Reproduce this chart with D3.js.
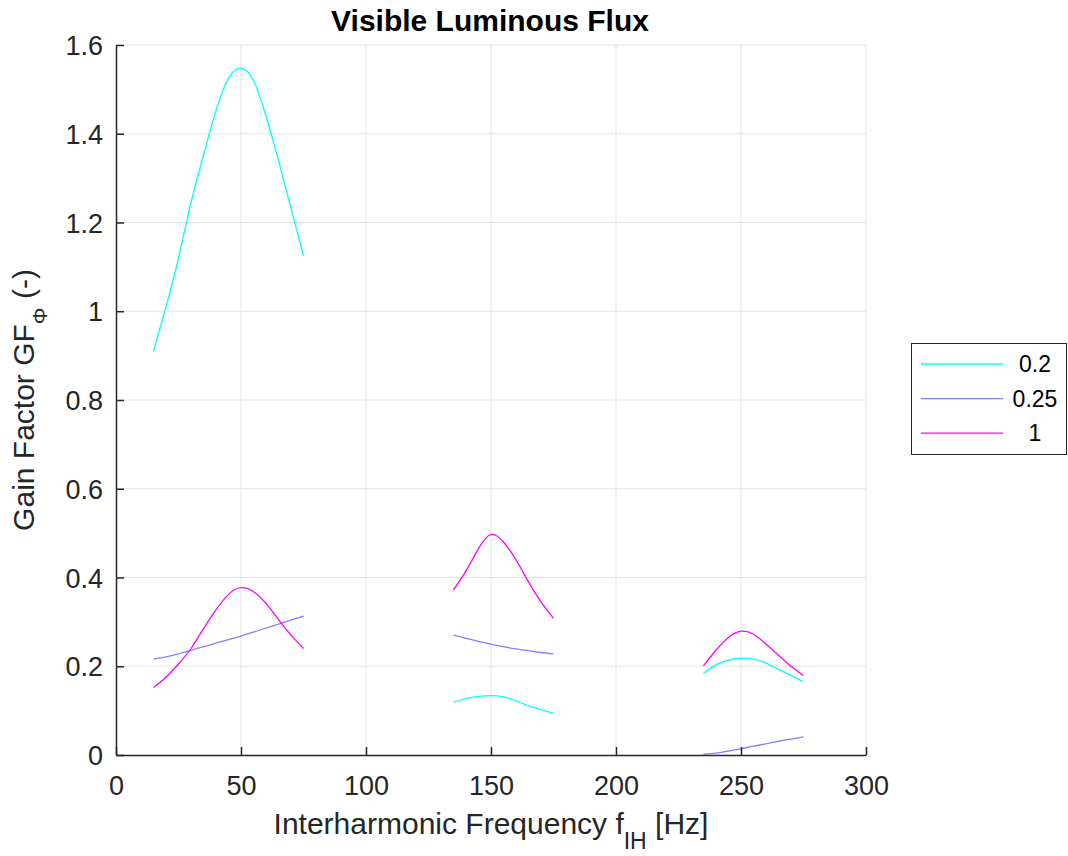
<!DOCTYPE html>
<html>
<head>
<meta charset="utf-8">
<script src="https://cdn.jsdelivr.net/npm/d3@7"></script>
<style>
  html, body { margin: 0; padding: 0; background: #fff; }
  svg { display: block; font-family: "Liberation Sans", Arial, Helvetica, sans-serif; }
</style>
</head>
<body>
<svg id="chart" width="1068" height="856"></svg>
<script>
// ---- data ----
const freqSeg1 = [15, 20, 25, 30, 35, 40, 45, 50, 55, 60, 65, 70, 75];
const freqSeg2 = [135, 140, 145, 150, 155, 160, 165, 170, 175];
const freqSeg3 = [235, 240, 245, 250, 255, 260, 265, 270, 275];

const seriesNames = ["0.2", "0.25", "1"];
const seriesColors = ["#00ffff", "#8080ff", "#ff00ff"];

const gf02_seg1 = [0.91, 1.01, 1.12, 1.245, 1.352, 1.452, 1.525, 1.548, 1.52, 1.44, 1.34, 1.232, 1.125];
const gf02_seg2 = [0.119, 0.127, 0.132, 0.134, 0.131, 0.122, 0.111, 0.102, 0.094];
const gf02_seg3 = [0.184, 0.203, 0.214, 0.218, 0.216, 0.207, 0.193, 0.179, 0.165];

const gf025_seg1 = [0.216, 0.221, 0.228, 0.236, 0.244, 0.252, 0.26, 0.268, 0.277, 0.286, 0.295, 0.304, 0.313];
const gf025_seg2 = [0.270, 0.263, 0.256, 0.250, 0.244, 0.239, 0.235, 0.231, 0.228];
const gf025_seg3 = [0.002, 0.004, 0.009, 0.014, 0.02, 0.025, 0.031, 0.036, 0.041];

const gf1_seg1 = [0.152, 0.175, 0.205, 0.24, 0.285, 0.327, 0.362, 0.377, 0.368, 0.342, 0.305, 0.27, 0.24];
const gf1_seg2 = [0.372, 0.415, 0.465, 0.497, 0.48, 0.44, 0.39, 0.345, 0.308];
const gf1_seg3 = [0.201, 0.236, 0.265, 0.279, 0.272, 0.25, 0.225, 0.2, 0.179];

const xTicks = [0, 50, 100, 150, 200, 250, 300];
const yTicks = [0, 0.2, 0.4, 0.6, 0.8, 1, 1.2, 1.4, 1.6];

const seriesData = [
  [gf02_seg1, gf02_seg2, gf02_seg3],
  [gf025_seg1, gf025_seg2, gf025_seg3],
  [gf1_seg1, gf1_seg2, gf1_seg3]
];
const segFreqs = [freqSeg1, freqSeg2, freqSeg3];

// ---- layout ----
const svg = d3.select("#chart");
const mLeft = 116, mRight = 866, mTop = 45, mBottom = 755;
const x = d3.scaleLinear().domain([0, 300]).range([mLeft, mRight]);
const y = d3.scaleLinear().domain([0, 1.6]).range([mBottom, mTop]);
const axisColor = "#262626";

// grid
const grid = svg.append("g");
grid.selectAll("line.gx").data(xTicks.filter(d => d > 0)).enter().append("line")
  .attr("x1", d => x(d)).attr("x2", d => x(d)).attr("y1", mTop).attr("y2", mBottom)
  .attr("stroke", "#e3e3e3").attr("stroke-width", 1);
grid.selectAll("line.gy").data(yTicks.filter(d => d > 0)).enter().append("line")
  .attr("x1", mLeft).attr("x2", mRight).attr("y1", d => y(d)).attr("y2", d => y(d))
  .attr("stroke", "#e3e3e3").attr("stroke-width", 1);

// lines
const line = d3.line().x(d => x(d[0])).y(d => y(d[1])).curve(d3.curveNatural);
seriesData.forEach((segs, si) => {
  segs.forEach((vals, k) => {
    const pts = segFreqs[k].map((f, i) => [f, vals[i]]);
    svg.append("path").datum(pts).attr("d", line)
      .attr("fill", "none").attr("stroke", seriesColors[si]).attr("stroke-width", 1.3);
  });
});

// axes
const xAxis = d3.axisBottom(x).tickValues(xTicks).tickSizeInner(-8).tickSizeOuter(0).tickPadding(14)
  .tickFormat(d3.format("d"));
const gx = svg.append("g").attr("transform", `translate(0,${mBottom})`).call(xAxis);
const yAxis = d3.axisLeft(y).tickValues(yTicks).tickSizeInner(-8).tickSizeOuter(0).tickPadding(14)
  .tickFormat(d => d === 0 ? "0" : (Number.isInteger(d) ? String(d) : d3.format(".1f")(d)));
const gy = svg.append("g").attr("transform", `translate(${mLeft},0)`).call(yAxis);
[gx, gy].forEach(g => {
  g.select(".domain").attr("stroke", axisColor).attr("stroke-width", 1.5);
  g.selectAll(".tick line").attr("stroke", axisColor).attr("stroke-width", 1.5);
  g.selectAll(".tick text").attr("fill", axisColor).attr("font-size", 27)
    .attr("font-family", "'Liberation Sans', Arial, sans-serif");
});
gx.selectAll(".tick text").attr("dy", "0.71em").attr("y", 21);
gy.selectAll(".tick text").attr("x", -13).attr("dy", "0.36em");

// title
svg.append("text").attr("x", (mLeft + mRight) / 2 - 1).attr("y", 31)
  .attr("text-anchor", "middle").attr("font-size", 30).attr("font-weight", "bold")
  .attr("fill", "#000").text("Visible Luminous Flux");

// x label
const xl = svg.append("text").attr("x", (mLeft + mRight) / 2).attr("y", 834)
  .attr("text-anchor", "middle").attr("font-size", 30).attr("fill", axisColor);
xl.append("tspan").text("Interharmonic Frequency f");
xl.append("tspan").attr("dy", 15).attr("font-size", 23).text("IH");
xl.append("tspan").attr("dy", -15).text(" [Hz]");

// y label
const yl = svg.append("text").attr("transform", `translate(34,${(mTop + mBottom) / 2}) rotate(-90)`)
  .attr("text-anchor", "middle").attr("font-size", 30).attr("fill", axisColor);
yl.append("tspan").text("Gain Factor GF");
yl.append("tspan").attr("dy", 13).attr("font-size", 21).text("\u03A6");
yl.append("tspan").attr("dy", -13).text("  (-)");

// legend
const lg = svg.append("g");
lg.append("rect").attr("x", 911.5).attr("y", 343.5).attr("width", 155).attr("height", 111)
  .attr("fill", "#fff").attr("stroke", axisColor).attr("stroke-width", 1);
seriesNames.forEach((name, i) => {
  const ly = 364 + i * 34.6;
  lg.append("line").attr("x1", 921).attr("x2", 1003).attr("y1", ly).attr("y2", ly)
    .attr("stroke", seriesColors[i]).attr("stroke-width", 1.3);
  lg.append("text").attr("x", 1035).attr("y", ly).attr("dy", "0.36em")
    .attr("text-anchor", "middle").attr("font-size", 23).attr("fill", "#000").text(name);
});
</script>
</body>
</html>
